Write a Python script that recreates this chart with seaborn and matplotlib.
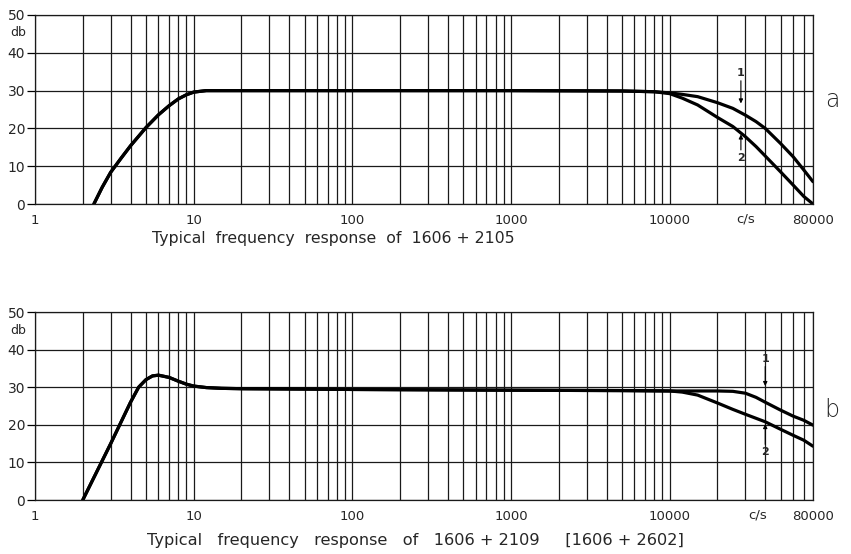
import numpy as np
import pandas as pd
import matplotlib
matplotlib.use("Agg")
import matplotlib.pyplot as plt
import seaborn as sns

# ---------------- data ----------------
# panel a : low-frequency rise shared by curves 1 and 2
freq_a_low = [2.35, 2.65, 3, 3.5, 4, 5, 6, 7, 8, 9, 10, 12, 15, 100, 1000, 5000, 8000]
db_a_low = [0, 4.4, 8.4, 12.2, 15.4, 20.2, 23.6, 26.0, 27.8, 28.9, 29.6, 30, 30, 30, 30, 29.9, 29.7]
freq_a_high = [10000, 12000, 15000, 20000, 25000, 30000, 35000, 40000, 50000, 60000, 70000, 80000]
db_a1_high = [29.4, 29.0, 28.4, 26.8, 25.3, 23.5, 21.8, 20.0, 16.0, 12.5, 9.0, 5.9]
db_a2_high = [29.2, 28.0, 26.2, 22.9, 20.5, 17.8, 15.2, 12.7, 8.5, 5.0, 2.0, 0.0]

# panel b
freq_b_low = [2, 3, 4, 4.5, 5, 5.5, 6, 7, 8, 9, 10, 12, 15, 20, 50, 100, 1000, 5000, 10000]
db_b_low = [0, 15, 26, 30, 32, 33, 33.2, 32.6, 31.6, 30.8, 30.3, 29.9, 29.7, 29.6, 29.5, 29.4, 29.2, 29.1, 29.0]
freq_b1_high = [15000, 20000, 25000, 30000, 35000, 40000, 50000, 60000, 70000, 80000]
db_b1_high = [29.0, 29.0, 28.9, 28.4, 27.3, 26.0, 23.9, 22.3, 21.2, 19.9]
freq_b2_high = [12000, 15000, 20000, 25000, 30000, 40000, 50000, 60000, 70000, 80000]
db_b2_high = [28.7, 27.9, 25.8, 24.1, 22.8, 20.8, 18.8, 17.2, 15.9, 14.3]

x_tick_vals = [1, 10, 100, 1000, 10000, 80000]
x_tick_labels = ["1", "10", "100", "1000", "10000", "80000"]
y_tick_vals = [0, 10, 20, 30, 40, 50]
titles = ["Typical  frequency  response  of  1606 + 2105",
          "Typical   frequency   response   of   1606 + 2109     [1606 + 2602]"]
panel_letters = ["a", "b"]

# ---------------- build tables ----------------
def mk(freqs, dbs, name):
    return pd.DataFrame({"f": freqs, "db": dbs, "curve": name})

df_a = pd.concat([
    mk(freq_a_low + freq_a_high, db_a_low + db_a1_high, "1"),
    mk(freq_a_low + freq_a_high, db_a_low + db_a2_high, "2"),
])
df_b = pd.concat([
    mk(freq_b_low + freq_b1_high, db_b_low + db_b1_high, "1"),
    mk(freq_b_low + freq_b2_high, db_b_low + db_b2_high, "2"),
])

sns.set_style("white")
plt.rcParams["font.family"] = ["DejaVu Sans"]

W, H = 851, 554
fig = plt.figure(figsize=(W / 100, H / 100), dpi=100)

def px_axes(left, top, right, bottom):
    return fig.add_axes([left / W, 1 - bottom / H, (right - left) / W, (bottom - top) / H])

ax_a = px_axes(35, 15, 813, 204)
ax_b = px_axes(35, 312, 813, 500)

minor = [m * 10 ** k for k in range(0, 5) for m in range(2, 10) if m * 10 ** k < 80000]

for ax, df in [(ax_a, df_a), (ax_b, df_b)]:
    ax.set_xscale("log")
    ax.set_xlim(1, 80000)
    ax.set_ylim(0, 50)
    ax.set_xticks(x_tick_vals)
    ax.set_xticklabels(x_tick_labels, fontsize=9.5)
    ax.set_xticks(minor, minor=True)
    ax.set_xticklabels([], minor=True)
    ax.set_yticks(y_tick_vals)
    ax.set_yticklabels([str(v) for v in y_tick_vals], fontsize=10)
    ax.tick_params(axis="x", which="major", length=4, width=0.9, pad=3, color="black", direction="out")
    ax.tick_params(axis="x", which="minor", length=0)
    ax.tick_params(axis="y", which="major", length=6, width=0.9, pad=1, color="black", direction="out", left=True)
    ax.grid(True, which="both", axis="x", color="#1a1a1a", lw=0.9)
    ax.grid(True, which="major", axis="y", color="#1a1a1a", lw=0.9)
    for s in ax.spines.values():
        s.set_color("#1a1a1a")
        s.set_linewidth(0.9)
    sns.lineplot(data=df, x="f", y="db", units="curve", estimator=None, sort=False,
                 color="black", lw=2.3, ax=ax, legend=False)
    ax.set_xlabel("")
    ax.set_ylabel("")

# c/s labels
ax_a.text(30000, -2.2, "c/s", ha="center", va="top", fontsize=9.5)
ax_b.text(36000, -2.2, "c/s", ha="center", va="top", fontsize=9.5)

# curve markers
arrow = dict(arrowstyle="-|>", lw=0.8, color="black", mutation_scale=6, shrinkA=0, shrinkB=0)
ax_a.text(28100, 34.7, "1", ha="center", va="center", fontsize=8, fontweight="bold")
ax_a.annotate("", xy=(28100, 26.6), xytext=(28100, 32.6), arrowprops=arrow)
ax_a.text(28100, 12.2, "2", ha="center", va="center", fontsize=8, fontweight="bold")
ax_a.annotate("", xy=(28100, 18.4), xytext=(28100, 14.3), arrowprops=arrow)

ax_b.text(40000, 37.5, "1", ha="center", va="center", fontsize=8, fontweight="bold")
ax_b.annotate("", xy=(40000, 30.3), xytext=(40000, 35.5), arrowprops=arrow)
ax_b.text(40000, 12.8, "2", ha="center", va="center", fontsize=8, fontweight="bold")
ax_b.annotate("", xy=(40000, 20.2), xytext=(40000, 14.8), arrowprops=arrow)

# db labels
fig.text(18 / W, 1 - 32 / H, "db", ha="center", va="center", fontsize=9)
fig.text(18 / W, 1 - 330 / H, "db", ha="center", va="center", fontsize=9)

# panel letters
fig.text(832 / W, 1 - 100 / H, panel_letters[0], ha="center", va="center", fontsize=17, fontweight="light")
fig.text(832 / W, 1 - 410 / H, panel_letters[1], ha="center", va="center", fontsize=17, fontweight="light")

# titles
fig.text(152 / W, 1 - 238 / H, titles[0], ha="left", va="center", fontsize=11.3)
fig.text(147 / W, 1 - 540 / H, titles[1], ha="left", va="center", fontsize=11.6)

fig.savefig("out.png", dpi=100, facecolor="white")
